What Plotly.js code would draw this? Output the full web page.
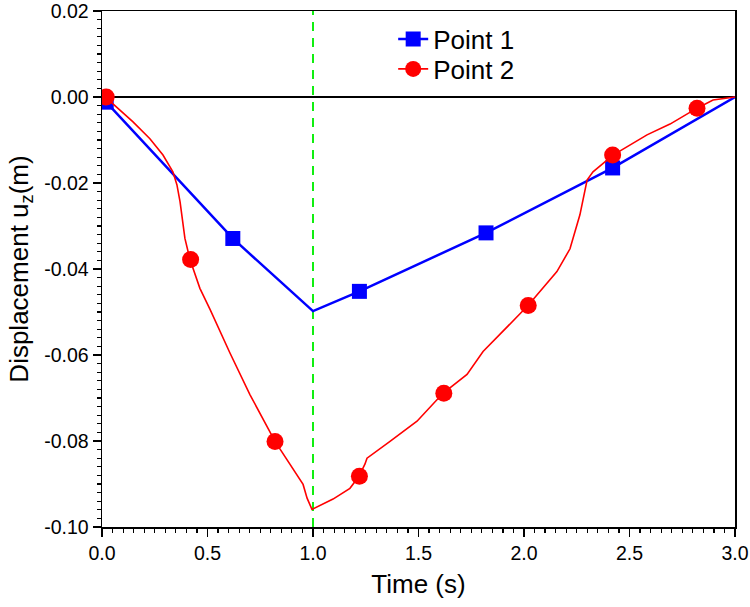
<!DOCTYPE html>
<html>
<head>
<meta charset="utf-8">
<script src="https://cdn.plot.ly/plotly-3.0.1.min.js"></script>
<style>html,body{margin:0;padding:0;background:#fff;}#chart{width:750px;height:607px;}</style>
</head>
<body>
<div id="chart"></div>
<script>
// Point 1 (blue) line vertices and markers
const timeP1Line = [0, 0.02, 0.62, 1.0, 1.22, 1.82, 2.42, 3.0];
const dispP1Line = [-0.001, -0.0012, -0.0329, -0.0498, -0.0452, -0.0316, -0.0165, 0];
const timeP1Mark = [0.02, 0.62, 1.22, 1.82, 2.42];
const dispP1Mark = [-0.0012, -0.0329, -0.0452, -0.0316, -0.0165];

// Point 2 (red) curve and markers
const timeP2Line = [0, 0.02, 0.052, 0.147, 0.227, 0.289, 0.336, 0.355, 0.37, 0.393, 0.417, 0.464, 0.512, 0.607, 0.701, 0.82, 0.953, 0.972, 0.995, 1.095, 1.175, 1.218, 1.246, 1.256, 1.365, 1.493, 1.616, 1.73, 1.806, 1.886, 2.019, 2.156, 2.218, 2.265, 2.289, 2.299, 2.327, 2.422, 2.583, 2.692, 2.82, 2.896, 3.0];
const dispP2Line = [0, 0, -0.0016, -0.0058, -0.0097, -0.0135, -0.0174, -0.0204, -0.0244, -0.0329, -0.0378, -0.0445, -0.0494, -0.0596, -0.0692, -0.0801, -0.0901, -0.0933, -0.0959, -0.0935, -0.0910, -0.0882, -0.0854, -0.0840, -0.0801, -0.0754, -0.0689, -0.0645, -0.0592, -0.0552, -0.0485, -0.0406, -0.0353, -0.0274, -0.0220, -0.0193, -0.0174, -0.0135, -0.0088, -0.0063, -0.0026, -0.0007, 0];
const timeP2Mark = [0.02, 0.42, 0.82, 1.22, 1.62, 2.02, 2.42, 2.82];
const dispP2Mark = [0, -0.0378, -0.0801, -0.0882, -0.0689, -0.0485, -0.0135, -0.0026];

// Vertical reference line (end of loading)
const refLineTime = [1.0, 1.0];
const refLineDisp = [-0.10, 0.02];

const seriesNames = ['Point 1', 'Point 2'];
const xTickVals = [0, 0.5, 1.0, 1.5, 2.0, 2.5, 3.0];
const xTickText = ['0.0', '0.5', '1.0', '1.5', '2.0', '2.5', '3.0'];
const yTickVals = [0.02, 0.00, -0.02, -0.04, -0.06, -0.08, -0.10];
const yTickText = ['0.02', '0.00', '-0.02', '-0.04', '-0.06', '-0.08', '-0.10'];

const BLUE = '#0000ff', RED = '#ff0000', GREEN = '#11ee11';
const FONT = 'Liberation Sans, Arial, sans-serif';

const traces = [
  {x: refLineTime, y: refLineDisp, mode: 'lines', line: {color: GREEN, width: 2, dash: '9px,7px'}, showlegend: false, hoverinfo: 'skip'},
  {x: timeP1Line, y: dispP1Line, mode: 'lines', line: {color: BLUE, width: 2.5}, showlegend: false},
  {x: timeP1Mark, y: dispP1Mark, mode: 'markers', marker: {color: BLUE, symbol: 'square', size: 15}, showlegend: false},
  {x: timeP2Line, y: dispP2Line, mode: 'lines', line: {color: RED, width: 1.6}, showlegend: false},
  {x: timeP2Mark, y: dispP2Mark, mode: 'markers', marker: {color: RED, symbol: 'circle', size: 17}, showlegend: false},
  {x: [null], y: [null], name: seriesNames[0], legend: 'legend', mode: 'lines+markers', line: {color: BLUE, width: 2.5}, marker: {color: BLUE, symbol: 'square', size: 15}},
  {x: [null], y: [null], name: seriesNames[1], legend: 'legend2', mode: 'lines+markers', line: {color: RED, width: 1.6}, marker: {color: RED, symbol: 'circle', size: 17}}
];

const axisCommon = {
  showgrid: false, showline: true, linecolor: 'black', linewidth: 1.5, mirror: true,
  ticks: 'outside', ticklen: 8, tickwidth: 1.5, tickcolor: 'black', ticklabeloverflow: 'allow',
  tickfont: {family: FONT, size: 19.5, color: 'black'}, tickmode: 'array'
};

const legendCommon = {x: 0.46, xanchor: 'left', yanchor: 'top', bgcolor: 'rgba(0,0,0,0)',
                      font: {family: FONT, size: 26, color: 'black'}};

const layout = {
  width: 750, height: 607,
  margin: {l: 102, r: 15, t: 11, b: 80},
  paper_bgcolor: 'white', plot_bgcolor: 'white',
  font: {family: FONT, color: 'black'},
  showlegend: true,
  legend: Object.assign({}, legendCommon, {y: 0.9913}),
  legend2: Object.assign({}, legendCommon, {y: 0.9331}),
  xaxis: Object.assign({}, axisCommon, {
    range: [0, 3.00001], tickvals: xTickVals, ticktext: xTickText, zeroline: false,
    minor: {tickmode: 'linear', tick0: 0, dtick: 0.05, ticks: 'outside', ticklen: 4, tickwidth: 1.2, tickcolor: 'black', showgrid: false},
    title: {text: 'Time (s)', font: {family: FONT, size: 26, color: 'black'}, standoff: 12}
  }),
  yaxis: Object.assign({}, axisCommon, {
    range: [-0.1000002, 0.0200002], tickvals: yTickVals, ticktext: yTickText,
    zeroline: true, zerolinecolor: 'black', zerolinewidth: 1.5,
    minor: {tickmode: 'linear', tick0: 0, dtick: 0.002, ticks: 'outside', ticklen: 4, tickwidth: 1.2, tickcolor: 'black', showgrid: false},
    title: {text: 'Displacement u<sub>z</sub>(m)', font: {family: FONT, size: 26, color: 'black'}, standoff: 8}
  })
};

Plotly.newPlot('chart', traces, layout, {displayModeBar: false, staticPlot: true});
</script>
</body>
</html>
